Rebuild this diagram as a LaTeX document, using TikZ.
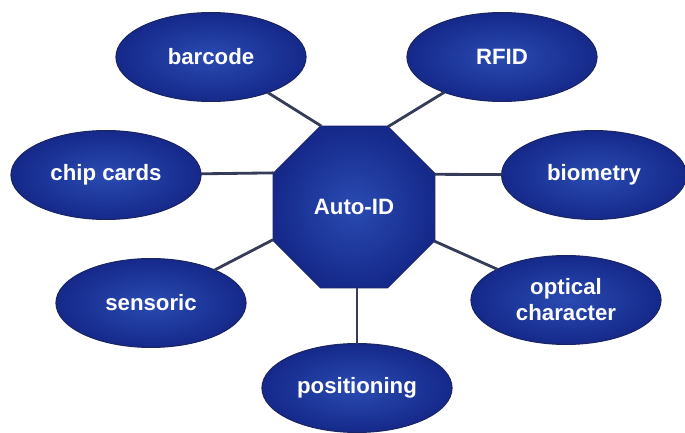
\documentclass[tikz,border=0pt]{standalone}
\usepackage{fontspec}
\setmainfont{Liberation Sans}
\usepackage{xcolor}
\usepackage{tikz}
\usetikzlibrary{shapes.geometric, backgrounds}
\definecolor{idlight}{HTML}{2A4BB2}
\definecolor{iddark}{HTML}{15298A}
\definecolor{idedge}{HTML}{1A2566}
\definecolor{linkgray}{HTML}{363C58}

\begin{document}
\begin{tikzpicture}[
    x=0.025cm, y=-0.025cm,
    hubbox/.style={regular polygon, regular polygon sides=8, minimum size=4.38cm,
                   inner sep=0pt, outer sep=0pt, shading=radial, inner color=idlight,
                   outer color=iddark, draw=idedge, line width=0.6pt,
                   text=white, font=\bfseries\fontsize{15.8}{18.5}\selectfont},
    techbox/.style={ellipse, minimum width=4.75cm, minimum height=2.22cm,
                    inner sep=0pt, outer sep=0pt, shading=radial, inner color=idlight,
                    outer color=iddark, draw=idedge, line width=0.8pt, align=center,
                    text=white, font=\bfseries\fontsize{15.8}{18.5}\selectfont},
    link/.style={draw=linkgray, line width=2pt},
]
    \useasboundingbox (0,0) rectangle (685,433);

    % ── hub ──
    \node[hubbox] (auto) at (354, 207) {Auto-ID};

    % ── technologies around the hub ──
    \node[techbox] (barcode) at (211, 57)  {barcode};
    \node[techbox] (rfid)    at (502, 57)  {RFID};
    \node[techbox] (chip)    at (106, 175) {chip cards};
    \node[techbox, minimum width=4.62cm] (bio) at (594, 175) {biometry};
    \node[techbox] (sens)    at (151, 303) {sensoric};
    \node[techbox] (ocr)     at (566, 300) {optical\\character};
    \node[techbox] (pos)     at (357, 388) {positioning};

    % spokes, from the octagon corners
    \draw[link] (auto.112.5) -- (barcode);
    \draw[link] (auto.67.5)  -- (rfid);
    \draw[link] (auto.157.5) -- (chip);
    \draw[link] (auto.22.5)  -- (bio);
    \draw[link] (auto.202.5) -- (sens);
    \draw[link] (auto.337.5) -- (ocr);
    \draw[link] (auto.south -| pos) -- (pos);

\end{tikzpicture}
\end{document}
